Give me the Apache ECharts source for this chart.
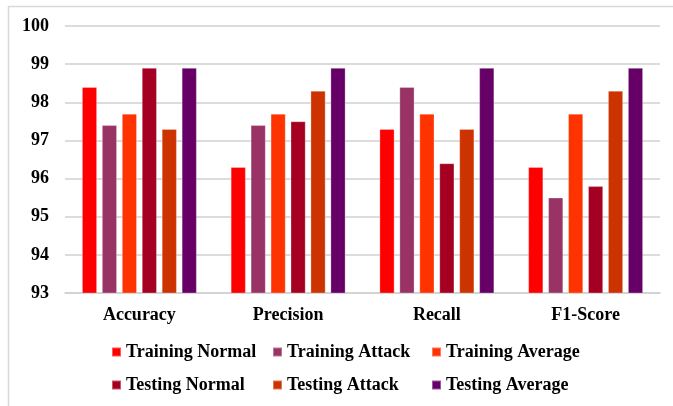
<!DOCTYPE html>
<html>
<head>
<meta charset="utf-8">
<script src="https://cdn.jsdelivr.net/npm/echarts@6/dist/echarts.min.js"></script>
<style>
html,body{margin:0;padding:0;background:#fff;}
#chart{width:673px;height:406px;}
</style>
</head>
<body>
<div id="chart"></div>
<script>
// Metric categories on the x axis
const categories = ['Accuracy', 'Precision', 'Recall', 'F1-Score'];

// Scores (%) per series, one value per metric
const trainingNormal  = [98.4, 96.3, 97.3, 96.3];
const trainingAttack  = [97.4, 97.4, 98.4, 95.5];
const trainingAverage = [97.7, 97.7, 97.7, 97.7];
const testingNormal   = [98.9, 97.5, 96.4, 95.8];
const testingAttack   = [97.3, 98.3, 97.3, 98.3];
const testingAverage  = [98.9, 98.9, 98.9, 98.9];

const seriesNames = ['Training Normal', 'Training Attack', 'Training Average',
                     'Testing Normal', 'Testing Attack', 'Testing Average'];
const seriesValues = [trainingNormal, trainingAttack, trainingAverage,
                      testingNormal, testingAttack, testingAverage];
const seriesColors = ['#FF0000', '#993366', '#FF3300', '#A50021', '#CC3300', '#660066'];

// Y axis range
const yMin = 93, yMax = 100, yStep = 1;

const FONT = '"Liberation Serif", "Times New Roman", serif';

// Legend laid out as a 3x2 grid of single-item legends
const legendCols = [111, 272, 431];
const legendRows = [343, 376];

const chart = echarts.init(document.getElementById('chart'));

const legends = seriesNames.map((name, i) => ({
  data: [name],
  left: legendCols[i % 3],
  top: legendRows[Math.floor(i / 3)],
  padding: 0,
  itemWidth: 9, itemHeight: 9,
  icon: 'rect',
  textStyle: {
    fontFamily: FONT, fontWeight: 'bold', fontSize: 18, color: '#000'
  }
}));

chart.setOption({
  animation: false,
  backgroundColor: '#fff',
  graphic: [{
    type: 'rect',
    shape: { x: 8.5, y: 6.5, width: 700, height: 450 },
    style: { fill: 'none', stroke: '#d9d9d9', lineWidth: 1.5 },
    silent: true, z: -1
  }],
  grid: { left: 65, right: 13, top: 26, bottom: 113 },
  legend: legends,
  xAxis: {
    type: 'category',
    data: categories,
    axisLine: { show: true, lineStyle: { color: '#d0d0d0', width: 1.5 } },
    axisTick: { show: false },
    axisLabel: {
      margin: 13, fontFamily: FONT, fontWeight: 'bold', fontSize: 18, color: '#000'
    }
  },
  yAxis: {
    type: 'value',
    min: yMin, max: yMax, interval: yStep,
    axisLine: { show: false },
    axisTick: { show: false },
    splitLine: { lineStyle: { color: '#d0d0d0', width: 1.5 } },
    axisLabel: {
      margin: 16, fontFamily: FONT, fontWeight: 'bold', fontSize: 18, color: '#000'
    }
  },
  series: seriesNames.map((name, i) => ({
    name: name,
    type: 'bar',
    data: seriesValues[i],
    barWidth: 15,
    barGap: '33%',
    barCategoryGap: '23%',
    itemStyle: {
      color: seriesColors[i],
      borderColor: 'rgba(255,255,255,0.35)',
      borderWidth: 0.8
    }
  }))
});
</script>
</body>
</html>
